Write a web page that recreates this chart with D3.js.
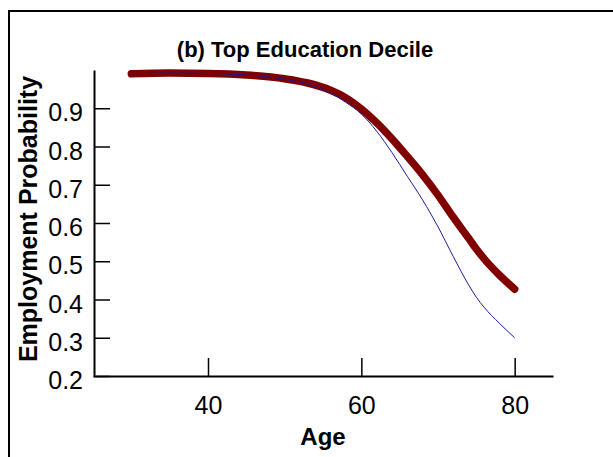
<!DOCTYPE html>
<html>
<head>
<meta charset="utf-8">
<script src="https://cdn.jsdelivr.net/npm/d3@7"></script>
<style>
  body { margin: 0; background: #fff; }
  svg { display: block; font-family: "Liberation Sans", Arial, sans-serif; }
</style>
</head>
<body>
<svg id="chart" width="613" height="457"></svg>
<script>
// ages and the two probability curves
var ages      = [30, 35, 40, 45, 50, 53, 56, 58, 60, 62, 64, 66, 68, 70, 72, 74, 75, 76, 78, 80];
var thickLine = [0.990, 0.992, 0.991, 0.987, 0.977, 0.966, 0.947, 0.927, 0.898, 0.862, 0.820, 0.774, 0.726, 0.673, 0.615, 0.560, 0.532, 0.507, 0.464, 0.427];
var thinLine  = [0.990, 0.992, 0.991, 0.987, 0.976, 0.963, 0.940, 0.915, 0.885, 0.840, 0.784, 0.722, 0.660, 0.590, 0.512, 0.438, 0.406, 0.380, 0.338, 0.300];

var xTicks = [40, 60, 80];
var xMinor = [30, 50, 70];
var yTicks = [0.2, 0.3, 0.4, 0.5, 0.6, 0.7, 0.8, 0.9];
var yMinor = [0.25, 0.35, 0.45, 0.55, 0.65, 0.75, 0.85, 0.95];

var title = "(b) Top Education Decile";
var xTitle = "Age";
var yTitle = "Employment Probability";

var svg = d3.select("#chart");

// outer frame (runs off the right and bottom edge)
svg.append("rect")
  .attr("x", 9).attr("y", 11)
  .attr("width", 640).attr("height", 480)
  .attr("fill", "none").attr("stroke", "#000").attr("stroke-width", 2);

var xScale = d3.scaleLinear().domain([25, 85]).range([93, 553]);
var yScale = d3.scaleLinear().domain([0.2, 1.0]).range([376, 70]);

// y axis, ticks pointing in
var yAxis = svg.append("g").attr("transform", "translate(94,0)");
yAxis.call(d3.axisLeft(yScale).tickValues(yMinor).tickSize(-8).tickSizeOuter(0).tickFormat(""));
yAxis.call(d3.axisLeft(yScale).tickValues(yTicks).tickSize(-16).tickSizeOuter(0).tickPadding(11).tickFormat(d3.format(".1f")));
yAxis.selectAll("text").attr("font-size", 25).attr("dy", "0.5em").attr("fill", "#000");

// x axis, ticks pointing up
var xAxis = svg.append("g").attr("transform", "translate(0,376)");
xAxis.call(d3.axisBottom(xScale).tickValues(xMinor).tickSize(-8).tickSizeOuter(0).tickFormat(""));
xAxis.call(d3.axisBottom(xScale).tickValues(xTicks).tickSize(-18).tickSizeOuter(0).tickPadding(20).tickFormat(d3.format("d")));
xAxis.selectAll("text").attr("font-size", 25).attr("fill", "#000");

svg.selectAll(".domain").attr("stroke", "#000").attr("stroke-width", 2);
svg.selectAll(".tick line").attr("stroke", "#000").attr("stroke-width", 1.5);

// curves
var line = d3.line()
  .x(function(d, i) { return xScale(ages[i]); })
  .y(function(d) { return yScale(d); })
  .curve(d3.curveMonotoneX);

svg.append("path")
  .attr("d", line(thickLine))
  .attr("fill", "none")
  .attr("stroke", "#800000")
  .attr("stroke-width", 7.5)
  .attr("stroke-linecap", "round")
  .attr("stroke-linejoin", "round");

svg.append("path")
  .attr("d", line(thinLine))
  .attr("fill", "none")
  .attr("stroke", "#1a1a9a")
  .attr("stroke-width", 1);

// titles
svg.append("text")
  .attr("x", 305).attr("y", 57)
  .attr("text-anchor", "middle")
  .attr("font-size", 22).attr("font-weight", "bold")
  .text(title);

svg.append("text")
  .attr("x", 323).attr("y", 445)
  .attr("text-anchor", "middle")
  .attr("font-size", 24).attr("font-weight", "bold")
  .text(xTitle);

svg.append("text")
  .attr("transform", "translate(37,219) rotate(-90)")
  .attr("text-anchor", "middle")
  .attr("font-size", 25).attr("font-weight", "bold")
  .text(yTitle);
</script>
</body>
</html>
